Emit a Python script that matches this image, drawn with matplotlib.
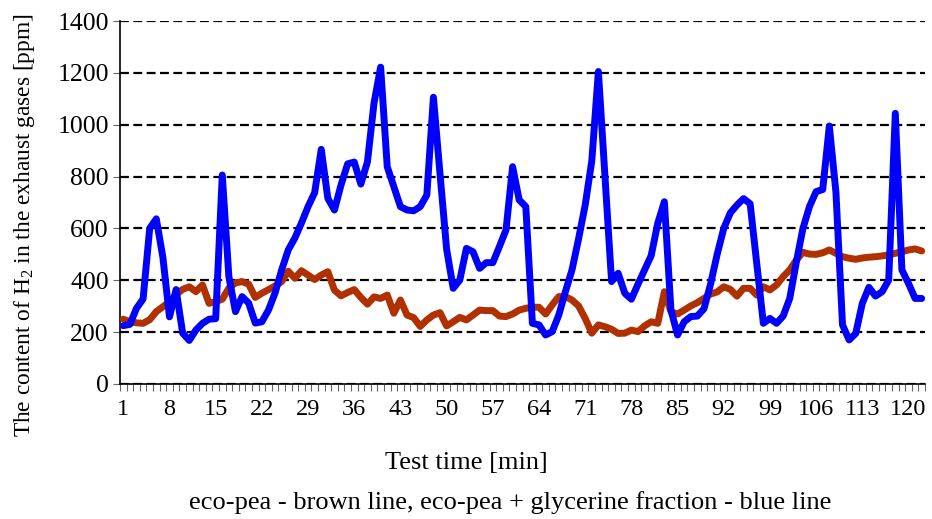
import matplotlib
matplotlib.use("Agg")
import matplotlib.pyplot as plt
from matplotlib.ticker import FixedLocator

plt.rcParams['font.family'] = ['Liberation Serif', 'DejaVu Serif']
plt.rcParams['mathtext.fontset'] = 'custom'
plt.rcParams['mathtext.rm'] = 'Liberation Serif'

minutes = list(range(1, 123))

eco_pea = [250, 240, 236, 234, 248, 279, 298, 317, 345, 365,
           375, 356, 382, 311, 318, 327, 370, 390, 395, 385,
           334, 350, 364, 378, 395, 435, 408, 437, 420, 403,
           420, 433, 362, 340, 353, 364, 334, 308, 336, 330,
           343, 273, 324, 266, 256, 222, 247, 266, 275, 224,
           240, 257, 247, 266, 285, 283, 283, 262, 260, 270,
           285, 292, 296, 296, 270, 305, 337, 337, 324, 301,
           253, 196, 228, 221, 211, 195, 196, 208, 202, 224,
           240, 234, 356, 279, 270, 285, 301, 314, 330, 347,
           355, 375, 365, 339, 369, 369, 343, 375, 363, 382,
           414, 440, 478, 508, 501, 500, 506, 517, 504, 491,
           485, 481, 486, 489, 491, 494, 498, 504, 510, 517,
           521, 513]

eco_pea_glycerine = [225, 230, 292, 328, 600, 637, 488, 259, 364, 196,
                     168, 208, 234, 250, 252, 806, 414, 279, 337, 312,
                     235, 240, 285, 351, 440, 517, 563, 621, 684, 738,
                     905, 716, 671, 768, 849, 856, 771, 857, 1084, 1222,
                     838, 761, 684, 671, 668, 684, 729, 1106, 810, 520,
                     369, 401, 523, 510, 446, 468, 468, 530, 594, 838,
                     710, 684, 234, 228, 189, 202, 266, 356, 440, 560,
                     690, 860, 1205, 800, 395, 427, 350, 327, 385, 440,
                     495, 620, 703, 285, 189, 240, 260, 262, 290, 385,
                     500, 600, 660, 690, 715, 695, 465, 234, 253, 234,
                     262, 330, 470, 600, 685, 742, 750, 995, 740, 228,
                     170, 195, 311, 373, 339, 356, 401, 1044, 440, 388,
                     330, 330]

x_tick_labels = [1, 8, 15, 22, 29, 36, 43, 50, 57, 64, 71, 78, 85, 92, 99, 106, 113, 120]
y_ticks = [0, 200, 400, 600, 800, 1000, 1200, 1400]

fig = plt.figure(figsize=(9.32, 5.19), dpi=100)
ax = fig.add_axes([120/932, 1-384/519, 805/932, 363/519])

ax.plot(minutes, eco_pea, color='#B03000', lw=5.0, solid_joinstyle='round', solid_capstyle='round', zorder=3)
ax.plot(minutes, eco_pea_glycerine, color='#0000FF', lw=5.0, solid_joinstyle='round', solid_capstyle='round', zorder=4)

ax.set_xlim(0.5, len(minutes) + 0.5)
ax.set_ylim(0, 1400)

ax.set_yticks(y_ticks)
ax.yaxis.grid(True, color='black', linestyle=(0, (4, 2)), linewidth=1.6)
ax.set_axisbelow(True)

ax.xaxis.set_major_locator(FixedLocator(x_tick_labels))
ax.set_xticklabels([str(v) for v in x_tick_labels])
ax.xaxis.set_minor_locator(FixedLocator([m - 0.5 for m in minutes] + [len(minutes) + 0.5]))
ax.tick_params(axis='x', which='major', length=0, labelsize=17.5, pad=11)
ax.tick_params(axis='x', which='minor', length=5, width=0.8, color='#666666', direction='out')
ax.tick_params(axis='y', which='major', length=5, width=0.8, color='#666666', labelsize=18.5, pad=3)

for s in ['top', 'right']:
    ax.spines[s].set_visible(False)
ax.spines['left'].set_linewidth(1.2)
ax.spines['bottom'].set_linewidth(1.2)

fig.text(466/932, 1-463/519, 'Test time [min]', ha='center', va='center', fontsize=19)
fig.text(510/932, 1-503/519, 'eco-pea - brown line, eco-pea + glycerine fraction - blue line',
         ha='center', va='center', fontsize=19)
fig.text(25/932, 1-225/519, 'The content of H$_{2}$ in the exhaust gases [ppm]', rotation=90,
         ha='center', va='center', fontsize=16.8)

fig.savefig('out.png', dpi=100)
